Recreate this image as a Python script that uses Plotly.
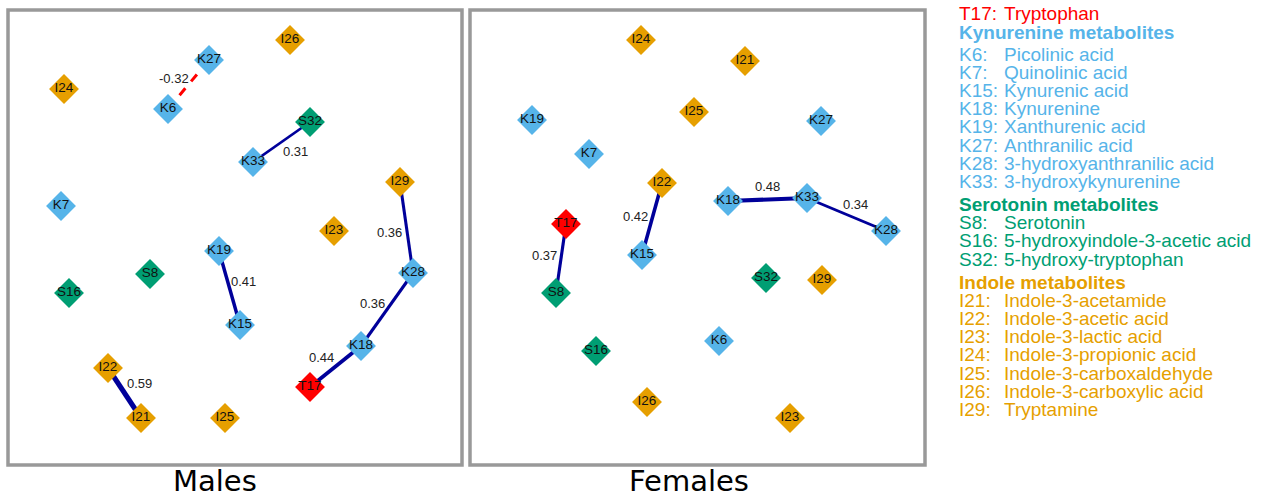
import plotly.graph_objects as go

W, H = 1269, 497

# ---------------- data ----------------
# node layout coordinates inside each panel (x from left, y from top)
male_nodes = ["I26", "K27", "I24", "K6", "S32", "K33", "I29", "K7", "I23", "K19",
              "K28", "S8", "S16", "K15", "K18", "I22", "T17", "I21", "I25"]
male_x = [282, 201, 56, 160, 302, 245, 392, 53, 326, 211, 405, 142, 61, 232, 353, 100, 302, 133, 217]
male_y = [30, 50, 79, 99, 112, 152, 172, 196, 221, 241, 263, 264, 283, 315, 336, 358, 377, 408, 408]

female_nodes = ["I24", "I21", "K19", "I25", "K27", "K7", "I22", "K18", "K33", "K28",
                "T17", "K15", "S32", "I29", "S8", "S16", "K6", "I26", "I23"]
female_x = [171, 275, 62, 224, 351, 119, 192, 258, 337, 416, 96, 172, 296, 352, 86, 126, 249, 177, 320]
female_y = [30, 51, 110, 102, 111, 144, 173, 191, 188, 221, 214, 245, 268, 270, 283, 341, 331, 392, 408]

# edges: source, target, correlation
male_src = ["K6", "K33", "I29", "K19", "K28", "T17", "I22"]
male_tgt = ["K27", "S32", "K28", "K15", "K18", "K18", "I21"]
male_w = [-0.32, 0.31, 0.36, 0.41, 0.36, 0.44, 0.59]

female_src = ["K18", "K33", "I22", "T17"]
female_tgt = ["K33", "K28", "K15", "S8"]
female_w = [0.48, 0.34, 0.42, 0.37]

panel_titles = ["Males", "Females"]

legend_codes = ["T17:", None, "K6:", "K7:", "K15:", "K18:", "K19:", "K27:", "K28:", "K33:",
                None, "S8:", "S16:", "S32:", None, "I21:", "I22:", "I23:", "I24:", "I25:", "I26:", "I29:"]
legend_names = ["Tryptophan", "Kynurenine metabolites", "Picolinic acid", "Quinolinic acid",
                "Kynurenic acid", "Kynurenine", "Xanthurenic acid", "Anthranilic acid",
                "3-hydroxyanthranilic acid", "3-hydroxykynurenine",
                "Serotonin metabolites", "Serotonin", "5-hydroxyindole-3-acetic acid",
                "5-hydroxy-tryptophan", "Indole metabolites", "Indole-3-acetamide",
                "Indole-3-acetic acid", "Indole-3-lactic acid", "Indole-3-propionic acid",
                "Indole-3-carboxaldehyde", "Indole-3-carboxylic acid", "Tryptamine"]
legend_groups = ["T", "K", "K", "K", "K", "K", "K", "K", "K", "K",
                 "S", "S", "S", "S", "I", "I", "I", "I", "I", "I", "I", "I"]

# ---------------- styles ----------------
group_colors = {"T": "#FF0000", "K": "#56B4E9", "S": "#009E73", "I": "#E69F00"}
pos_color = "#00009A"
neg_color = "#FF0000"
label_font = "Liberation Sans, Arial, sans-serif"

# edge-label offsets (pixels) from edge midpoints
male_offsets = [(-15, -6), (14, 9), (-17, 5), (14, -7), (-15, -6), (-14, -9), (15, -10)]
female_offsets = [(0, -13), (9, -10), (-17, -3), (-17, -3)]
title_x = [0.456, 0.482]   # title centres within each panel's domain

fig = go.Figure()

panels = [
    dict(nodes=male_nodes, x=male_x, y=male_y, src=male_src, tgt=male_tgt, w=male_w,
         off=male_offsets, xa="x", ya="y"),
    dict(nodes=female_nodes, x=female_x, y=female_y, src=female_src, tgt=female_tgt, w=female_w,
         off=female_offsets, xa="x2", ya="y2"),
]

top, bottom = 10, 465
annotations = []
shapes = []

for i, p in enumerate(panels):
    pos = {n: (xx, yy) for n, xx, yy in zip(p["nodes"], p["x"], p["y"])}
    # edges
    for (s, t, w), (dx, dy) in zip(zip(p["src"], p["tgt"], p["w"]), p["off"]):
        (x0, y0), (x1, y1) = pos[s], pos[t]
        fig.add_trace(go.Scatter(
            x=[x0, x1], y=[y0, y1], mode="lines", xaxis=p["xa"], yaxis=p["ya"],
            line=dict(color=pos_color if w > 0 else neg_color,
                      width=abs(w) * 8.5 if w > 0 else 3,
                      dash="solid" if w > 0 else "dash"),
            hoverinfo="skip", showlegend=False))
        annotations.append(dict(
            x=(x0 + x1) / 2 + dx, y=(y0 + y1) / 2 + dy, xref=p["xa"], yref=p["ya"],
            text=f"{w:.2f}", showarrow=False, xanchor="center", yanchor="middle",
            font=dict(family=label_font, size=13, color="#222222")))
    # nodes per group
    for g, col in group_colors.items():
        idx = [k for k, n in enumerate(p["nodes"]) if n[0] == g]
        if not idx:
            continue
        fig.add_trace(go.Scatter(
            x=[p["x"][k] for k in idx], y=[p["y"][k] for k in idx],
            text=[p["nodes"][k] for k in idx], mode="markers+text",
            xaxis=p["xa"], yaxis=p["ya"], textposition="middle center",
            marker=dict(symbol="diamond", size=23, color=col, line=dict(width=0)),
            textfont=dict(family=label_font, size=13.5, color="#111111"),
            hoverinfo="text", showlegend=False))
    # panel border
    shapes.append(dict(type="rect", xref=f"{p['xa']} domain", yref=f"{p['ya']} domain",
                       x0=0, x1=1, y0=0, y1=1, line=dict(color="#999999", width=3.5)))
    # panel title
    annotations.append(dict(x=title_x[i], xref=f"{p['xa']} domain", y=(H - 481) / H, yref="paper",
                            text=panel_titles[i], showarrow=False, xanchor="center",
                            yanchor="middle",
                            font=dict(family="DejaVu Sans", size=29, color="black")))

# legend (metabolite key)
ycur = 13.5
prev_header = False
for k, (code, name, g) in enumerate(zip(legend_codes, legend_names, legend_groups)):
    header = code is None
    if k > 0:
        if header:
            ycur += 23 if k > 2 else 19
        elif prev_header:
            ycur += 21.5 if k == 2 else 18.3
        else:
            ycur += 18.2
    col = group_colors[g]
    fnt = dict(family=label_font, size=19, color=col)
    if header:
        annotations.append(dict(x=957 / W, y=1 - ycur / H, xref="paper", yref="paper",
                                text=f"<b>{name}</b>", showarrow=False, xanchor="left",
                                yanchor="middle", font=fnt))
    else:
        annotations.append(dict(x=957 / W, y=1 - ycur / H, xref="paper", yref="paper",
                                text=code, showarrow=False, xanchor="left",
                                yanchor="middle", font=fnt))
        annotations.append(dict(x=1002 / W, y=1 - ycur / H, xref="paper", yref="paper",
                                text=name, showarrow=False, xanchor="left",
                                yanchor="middle", font=fnt))
    prev_header = header

ydom = [(H - bottom) / H, (H - top) / H]
axis_common = dict(showgrid=False, zeroline=False, showticklabels=False, ticks="",
                   showline=False, fixedrange=True)
fig.update_layout(
    width=W, height=H, margin=dict(l=0, r=0, t=0, b=0),
    paper_bgcolor="white", plot_bgcolor="white",
    xaxis=dict(domain=[8 / W, 462 / W], range=[0, 454], **axis_common),
    yaxis=dict(domain=ydom, range=[455, 0], **axis_common),
    xaxis2=dict(domain=[470 / W, 925 / W], range=[0, 455], **axis_common),
    yaxis2=dict(domain=ydom, range=[455, 0], **axis_common),
    annotations=annotations, shapes=shapes, showlegend=False,
)

fig.write_html("out.html", config={"displayModeBar": False},
               post_script="document.body.style.margin='0';document.body.style.padding='0';")
